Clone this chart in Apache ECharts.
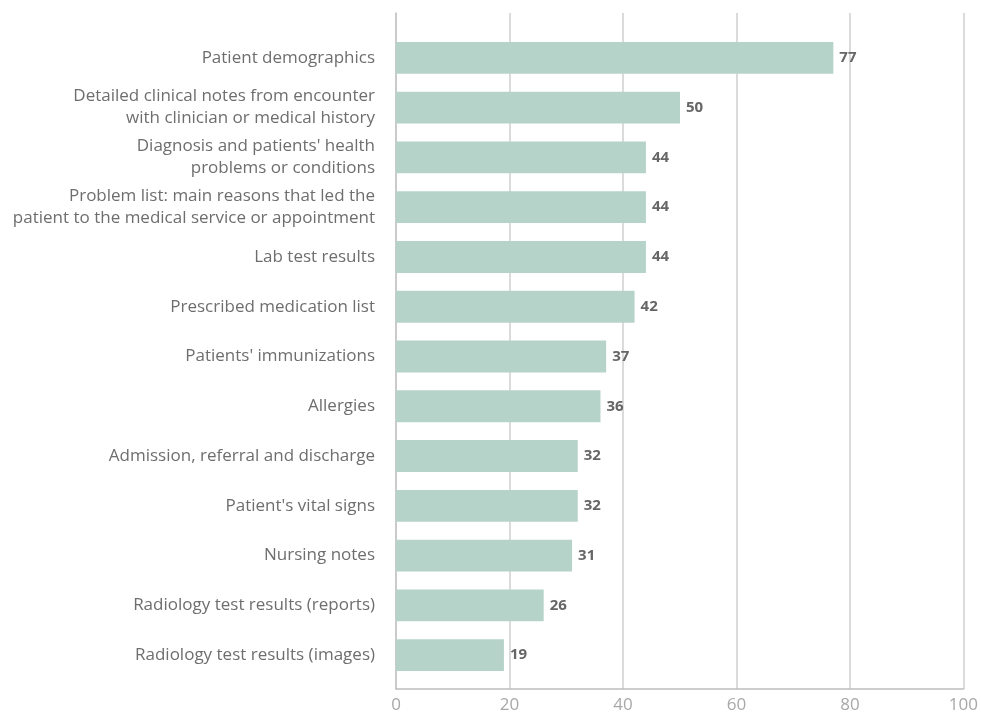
<!DOCTYPE html>
<html>
<head>
<meta charset="utf-8">
<script src="https://cdn.jsdelivr.net/npm/echarts@6/dist/echarts.min.js"></script>
<style>
  html, body { margin: 0; padding: 0; background: #fff; }
  #chart { width: 981px; height: 714px; }
</style>
</head>
<body>
<div id="chart"></div>
<script>
// Categories, listed bottom to top (ECharts draws category axes upward)
const categories = [
  'Radiology test results (images)',
  'Radiology test results (reports)',
  'Nursing notes',
  "Patient's vital signs",
  'Admission, referral and discharge',
  'Allergies',
  "Patients' immunizations",
  'Prescribed medication list',
  'Lab test results',
  'Problem list: main reasons that led the\npatient to the medical service or appointment',
  "Diagnosis and patients' health\nproblems or conditions",
  'Detailed clinical notes from encounter\nwith clinician or medical history',
  'Patient demographics'
];
const values = [19, 26, 31, 32, 32, 36, 37, 42, 44, 44, 44, 50, 77];
const xTicks = [0, 20, 40, 60, 80, 100];

const FONT = 'Open Sans';
const chart = echarts.init(document.getElementById('chart'));

// two-line labels sit a little lower than single-line ones
const categoryData = categories.map(c => c.indexOf('\n') >= 0
  ? { value: c, textStyle: { padding: [6, 0, 0, 0] } }
  : c);

chart.setOption({
  animation: false,
  textStyle: { fontFamily: FONT },
  grid: [
    // bars
    { left: 396, right: 17, top: 33, bottom: 34 },
    // frame: gridlines, baseline and ticks
    { left: 396, right: 17, top: 13, bottom: 25 }
  ],
  xAxis: [
    {
      gridIndex: 0, type: 'value', min: xTicks[0], max: xTicks[xTicks.length - 1], interval: 20,
      show: false
    },
    {
      gridIndex: 1, type: 'value', min: xTicks[0], max: xTicks[xTicks.length - 1], interval: 20,
      axisLine: { show: true, lineStyle: { color: '#bdbdbd', width: 1.5 } },
      axisTick: { show: false },
      splitLine: { show: true, lineStyle: { color: '#cfcfcf', width: 1.5 } },
      axisLabel: { color: '#a8a8a8', fontSize: 17, margin: 8, fontFamily: FONT }
    }
  ],
  yAxis: [
    {
      gridIndex: 0, type: 'category', data: categoryData,
      axisLine: { show: false },
      axisTick: { show: false },
      axisLabel: {
        color: '#6e6e6e', fontSize: 17, lineHeight: 22, margin: 21,
        align: 'right', fontFamily: FONT, padding: [2, 0, 0, 0]
      }
    },
    {
      gridIndex: 1, type: 'value', min: 0, max: 1,
      axisLine: { show: true, lineStyle: { color: '#c4c4c4', width: 1.5 } },
      axisTick: { show: false },
      axisLabel: { show: false },
      splitLine: { show: false }
    }
  ],
  series: [{
    type: 'bar',
    xAxisIndex: 0, yAxisIndex: 0,
    data: values,
    barCategoryGap: '36%',
    itemStyle: { color: '#b6d3c9' },
    label: {
      show: true, position: 'right', distance: 6,
      color: '#666666', fontSize: 15, fontWeight: 'bold', fontFamily: FONT
    }
  }]
});
</script>
</body>
</html>
